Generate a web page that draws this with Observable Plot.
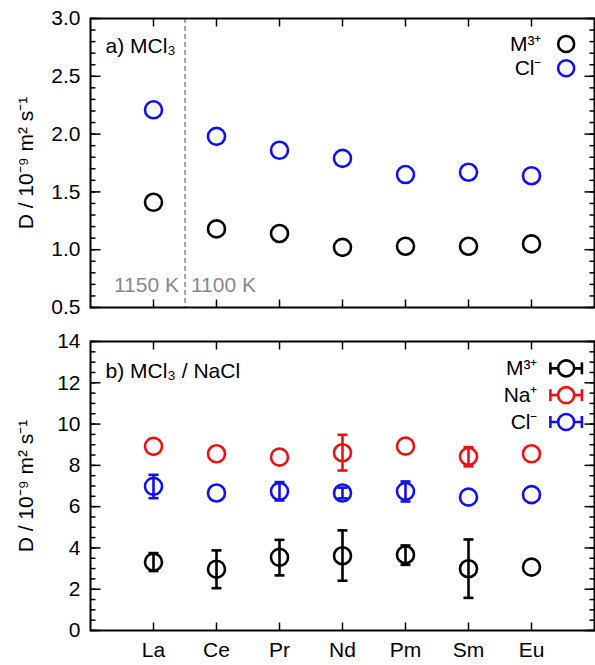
<!DOCTYPE html>
<html><head><meta charset="utf-8">
<script src="https://cdn.jsdelivr.net/npm/d3@7"></script>
<script src="https://cdn.jsdelivr.net/npm/@observablehq/plot@0.6"></script>
<style>body{margin:0;background:#fff;font-family:Arial,"Liberation Sans",sans-serif}svg{display:block}</style>
</head><body><div id="chart"></div>
<script>
const elements = ["La", "Ce", "Pr", "Nd", "Pm", "Sm", "Eu"]

// panel a) MCl3
const aM = [1.41, 1.18, 1.14, 1.02, 1.03, 1.03, 1.05]
const aCl = [2.21, 1.98, 1.86, 1.79, 1.65, 1.67, 1.64]

// panel b) MCl3 / NaCl : value, low, high
const bM = [3.31, 2.97, 3.54, 3.62, 3.67, 2.99, 3.07]
const bMlo = [2.88, 2.05, 2.67, 2.41, 3.18, 1.58, 3.07]
const bMhi = [3.75, 3.88, 4.39, 4.85, 4.12, 4.41, 3.07]
const bNa = [8.92, 8.56, 8.40, 8.61, 8.93, 8.43, 8.56]
const bNalo = [8.92, 8.56, 8.40, 7.75, 8.93, 7.95, 8.56]
const bNahi = [8.92, 8.56, 8.40, 9.48, 8.93, 8.88, 8.56]
const bCl = [6.98, 6.66, 6.74, 6.66, 6.74, 6.46, 6.58]
const bCllo = [6.41, 6.66, 6.30, 6.40, 6.25, 6.46, 6.58]
const bClhi = [7.54, 6.66, 7.19, 6.92, 7.22, 6.46, 6.58]

const ylab = "D / 10⁻⁹ m² s⁻¹"
const FS = 21
// line symbols: dx0,dy0 -> dx1,dy1
const seg = (x0, y0, x1, y1) => ({draw(ctx) { ctx.moveTo(x0, y0); ctx.lineTo(x1, y1) }})
const capH = seg(-5, 0, 5, 0)
const capV = seg(0, -6, 0, 6)

const rows = (v, lo, hi, ion) => v.map((d, i) => ({i, v: d, lo: lo ? lo[i] : d, hi: hi ? hi[i] : d, ion}))
const colors = {M: "black", Na: "#ee1111", Cl: "#1111ee"}

function frameAxes(ydom, yTicks, yMinor, fmt) {
  const [y0, y1] = ydom
  const tk = {stroke: "black", strokeWidth: 1.5}
  return [
    Plot.dot(d3.range(7), {x: d => d, y: y0, symbol: seg(0, 0, 0, -8), ...tk}),
    Plot.dot(d3.range(7), {x: d => d, y: y1, symbol: seg(0, 0, 0, 8), ...tk}),
    Plot.dot(yMinor, {x: -1, y: d => d, symbol: seg(0, 0, 5, 0), ...tk}),
    Plot.dot(yMinor, {x: 7, y: d => d, symbol: seg(0, 0, -5, 0), ...tk}),
    Plot.dot(yTicks, {x: -1, y: d => d, symbol: seg(0, 0, 10, 0), ...tk}),
    Plot.dot(yTicks, {x: 7, y: d => d, symbol: seg(0, 0, -10, 0), ...tk}),
    Plot.axisY(yTicks, {anchor: "left", tickSize: 0, tickFormat: fmt, fontSize: FS, tickPadding: 10,
      label: ylab, labelAnchor: "center", labelArrow: "none", labelOffset: 72}),
    Plot.frame({stroke: "black", strokeWidth: 2})
  ]
}

const style = {fontFamily: "Arial, Liberation Sans, sans-serif", fontSize: FS + "px", color: "black"}
const dA = [...rows(aM, null, null, "M"), ...rows(aCl, null, null, "Cl")]
const chartA = Plot.plot({
  width: 595, height: 325, marginLeft: 90, marginRight: 1, marginTop: 18, marginBottom: 18,
  style,
  x: {domain: [-1, 7], axis: null},
  y: {domain: [0.5, 3.0], axis: null},
  marks: [
    Plot.ruleX([0.5], {stroke: "#777", strokeDasharray: "5,3", strokeWidth: 1.3}),
    Plot.dot(dA, {x: "i", y: "v", r: 8.5, stroke: d => colors[d.ion], strokeWidth: 2.6}),
    Plot.text(["1150 K"], {x: 0.5, y: 0.5, dx: -6, dy: -22, textAnchor: "end", fill: "#888", fontSize: FS}),
    Plot.text(["1100 K"], {x: 0.5, y: 0.5, dx: 6, dy: -22, textAnchor: "start", fill: "#888", fontSize: FS}),
    Plot.text(["a) MCl₃"], {x: -1, y: 3.0, dx: 15, dy: 28, textAnchor: "start", fontSize: FS}),
    Plot.text(["M³⁺", "Cl⁻"], {x: 6, y: [2.78, 2.57], dx: 10, textAnchor: "end", fontSize: FS}),
    Plot.dot(["M", "Cl"], {x: 6.55, y: [2.78, 2.57], r: 8, stroke: d => colors[d], strokeWidth: 2.6}),
    ...frameAxes([0.5, 3], [0.5, 1, 1.5, 2, 2.5, 3], d3.range(5, 31).map(d => d / 10), d3.format(".1f"))
  ]
})

const dB = [...rows(bM, bMlo, bMhi, "M"), ...rows(bNa, bNalo, bNahi, "Na"), ...rows(bCl, bCllo, bClhi, "Cl")]
const dBerr = dB.filter(d => d.hi > d.lo)
const leg = [{ion: "M", y: 12.7, t: "M³⁺"}, {ion: "Na", y: 11.4, t: "Na⁺"}, {ion: "Cl", y: 10.1, t: "Cl⁻"}]
const lc = d => colors[d.ion]
const chartB = Plot.plot({
  width: 595, height: 340, marginLeft: 90, marginRight: 1, marginTop: 16, marginBottom: 35,
  style,
  x: {domain: [-1, 7], axis: null},
  y: {domain: [0, 14], axis: null},
  marks: [
    Plot.ruleX(dBerr, {x: "i", y1: "lo", y2: "hi", stroke: lc, strokeWidth: 2.6}),
    Plot.dot(dBerr, {x: "i", y: "lo", symbol: capH, stroke: lc, strokeWidth: 2.6}),
    Plot.dot(dBerr, {x: "i", y: "hi", symbol: capH, stroke: lc, strokeWidth: 2.6}),
    Plot.dot(dB, {x: "i", y: "v", r: 8.5, stroke: lc, strokeWidth: 2.6}),
    Plot.text(["b) MCl₃ / NaCl"], {x: -1, y: 14, dx: 15, dy: 30, textAnchor: "start", fontSize: FS}),
    Plot.text(leg, {x: 6, y: "y", text: "t", dx: 6, textAnchor: "end", fontSize: FS}),
    Plot.ruleY(leg, {x1: 6.3, x2: 6.8, y: "y", stroke: lc, strokeWidth: 2.6}),
    Plot.dot(leg, {x: 6.3, y: "y", symbol: capV, stroke: lc, strokeWidth: 2.6}),
    Plot.dot(leg, {x: 6.8, y: "y", symbol: capV, stroke: lc, strokeWidth: 2.6}),
    Plot.dot(leg, {x: 6.55, y: "y", r: 8, fill: "white", stroke: lc, strokeWidth: 2.6}),
    Plot.axisX(d3.range(7), {anchor: "bottom", tickSize: 0, tickPadding: 12, fontSize: FS,
      tickFormat: i => elements[i], label: null}),
    ...frameAxes([0, 14], d3.range(0, 15, 2), d3.range(0, 14.1, 0.5), d3.format("d"))
  ]
})

document.getElementById("chart").append(chartA, chartB)
</script></body></html>
